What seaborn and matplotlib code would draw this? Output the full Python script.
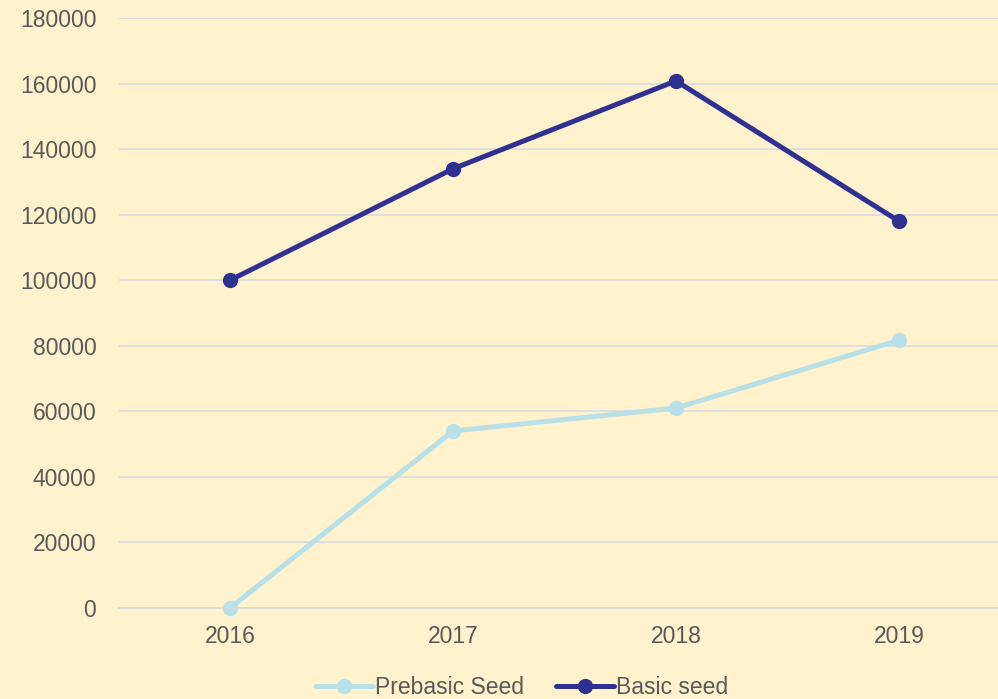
import pandas as pd
import seaborn as sns
import matplotlib.pyplot as plt

years = ["2016", "2017", "2018", "2019"]
prebasic = [0, 54000, 61000, 81700]
basic = [100000, 134000, 160800, 118000]
series_names = ["Prebasic Seed", "Basic seed"]

df = pd.DataFrame({
    "year": years * 2,
    "value": prebasic + basic,
    "series": [series_names[0]] * 4 + [series_names[1]] * 4,
})

sns.set_theme(style="white")
plt.rcParams["font.family"] = ["Liberation Sans", "DejaVu Sans"]

bg = "#FFF2CC"
fig = plt.figure(figsize=(9.98, 6.99), dpi=100, facecolor=bg)
# axes reaches a bit past the right edge, like the original
ax = fig.add_axes([118.5 / 998, 91 / 699, 892 / 998, 590 / 699])
ax.set_facecolor(bg)

sns.lineplot(data=df, x="year", y="value", hue="series",
             palette={"Prebasic Seed": "#B7E0E7", "Basic seed": "#2E3192"},
             marker="o", markersize=11, markeredgewidth=0, linewidth=3.6,
             sort=False, ax=ax, legend=False)
for ln in ax.lines:
    ln.set_clip_on(False)

ax.set_xlim(-0.5, 3.5)
ax.set_ylim(0, 180000)
ax.set_yticks(range(0, 180001, 20000))
ax.grid(axis="y", color="#D9D9E3", linewidth=1.2)
ax.set_axisbelow(True)
for s in ["top", "right", "left"]:
    ax.spines[s].set_visible(False)
ax.spines["bottom"].set_color("#D9D9D9")
ax.spines["bottom"].set_linewidth(1.2)
ax.tick_params(axis="y", length=0, pad=16, labelsize=16.5, labelcolor="#595959")
ax.tick_params(axis="x", length=0, pad=12, labelsize=16.5, labelcolor="#595959")
ax.set_xlabel("")
ax.set_ylabel("")

handles = [plt.Line2D([], [], color="#B7E0E7", lw=3.6, marker="o", markersize=11, markeredgewidth=0),
           plt.Line2D([], [], color="#2E3192", lw=3.6, marker="o", markersize=11, markeredgewidth=0)]
fig.legend(handles, series_names, loc="lower center", bbox_to_anchor=(0.523, -0.03),
           ncol=2, frameon=False, fontsize=16.5, labelcolor="#595959",
           handlelength=2.5, handletextpad=0.1, columnspacing=1.4)

fig.savefig("out.png", dpi=100, facecolor=bg)
